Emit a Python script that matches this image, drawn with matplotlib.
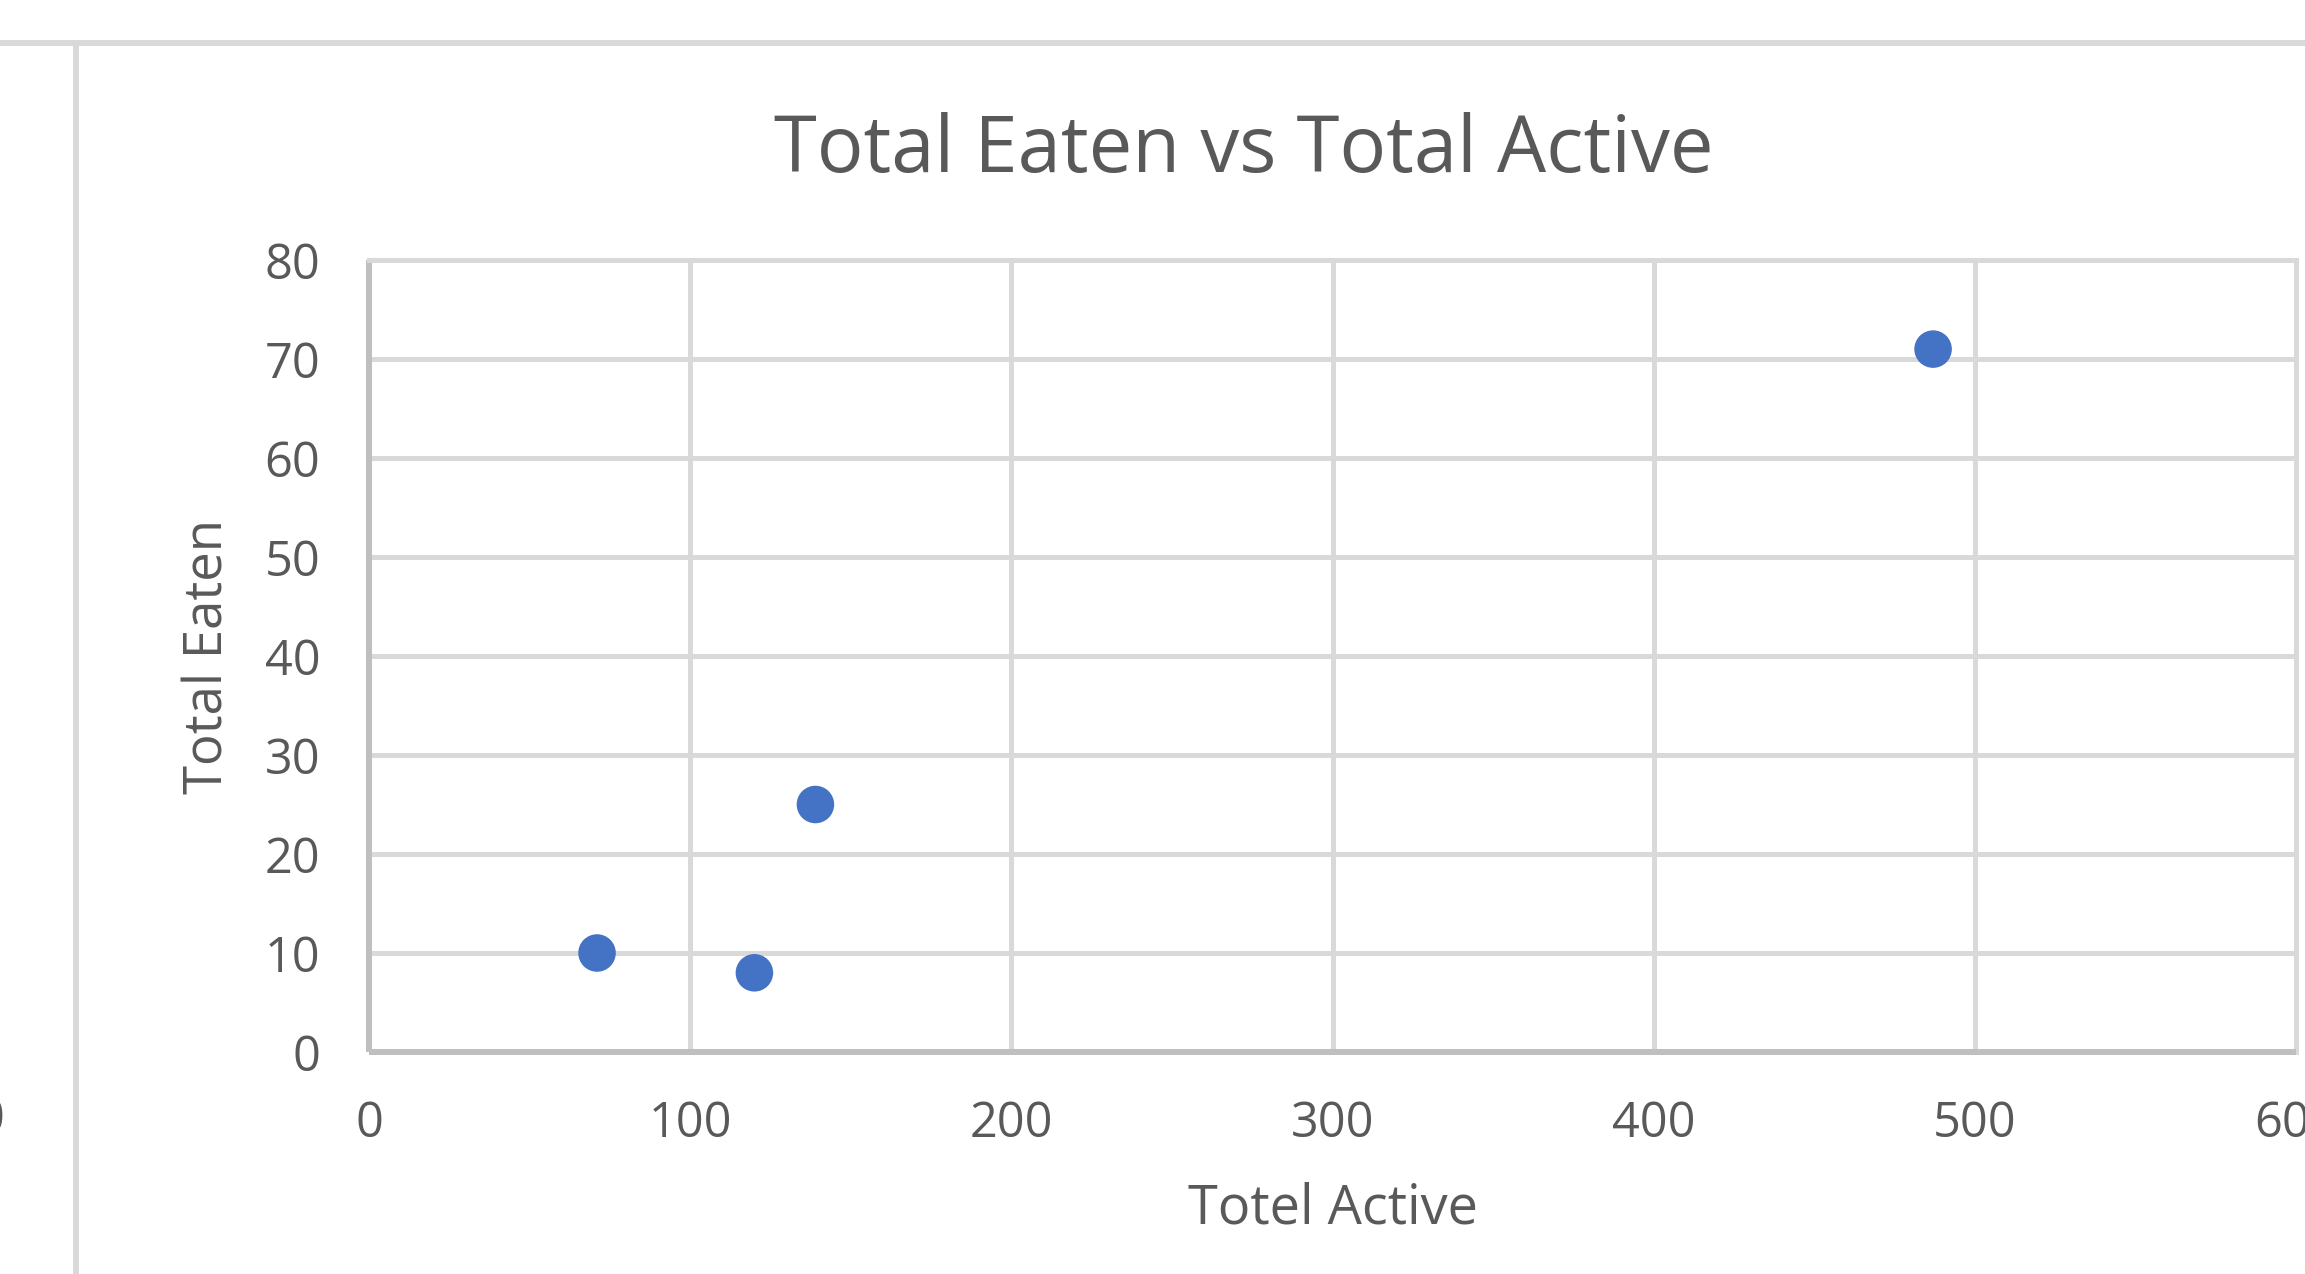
import matplotlib
matplotlib.use("Agg")
import matplotlib.pyplot as plt
from matplotlib.lines import Line2D

# values read per sample
total_active = [71, 120, 139, 487]
total_eaten = [10, 8, 25, 71]
x_ticks = [0, 100, 200, 300, 400, 500, 600]
y_ticks = [0, 10, 20, 30, 40, 50, 60, 70, 80]

plt.rcParams['font.family'] = ['Open Sans', 'DejaVu Sans']
text_color = '#595959'
grid_color = '#d9d9d9'
axis_color = '#bfbfbf'

W, H = 2305, 1274
fig = plt.figure(figsize=(W / 100, H / 100), dpi=100)
fig.patch.set_facecolor('white')

# plot area in pixels
left, right, top, bottom = 369, 2296, 260, 1052
ax = fig.add_axes([left / W, 1 - bottom / H, (right - left) / W, (bottom - top) / H])

ax.scatter(total_active, total_eaten, s=730, color='#4472C4', edgecolors='none', zorder=3, clip_on=False)

ax.set_xlim(0, 600)
ax.set_ylim(0, 80)
ax.set_xticks(x_ticks)
ax.set_yticks(y_ticks)
ax.grid(True, color=grid_color, linewidth=3.6)
ax.set_axisbelow(True)
ax.tick_params(length=0, labelsize=35, labelcolor=text_color)
ax.tick_params(axis='x', pad=34)
ax.tick_params(axis='y', pad=35)

for side in ['top', 'right']:
    ax.spines[side].set_color(grid_color)
    ax.spines[side].set_linewidth(3.6)
for side in ['left', 'bottom']:
    ax.spines[side].set_color(axis_color)
    ax.spines[side].set_linewidth(4.3)
    ax.spines[side].set_capstyle('butt')

ax.set_xlabel("Totel Active", fontsize=39, color=text_color, va='baseline')
ax.xaxis.set_label_coords(0.5005, -0.216)
ax.set_ylabel("Total Eaten", fontsize=38, color=text_color, va='baseline')
ax.yaxis.set_label_coords(-0.0762, 0.5)

fig.text(1244 / W, 1 - 172 / H, "Total Eaten vs Total Active", fontsize=56,
         color=text_color, ha='center', va='baseline')

# chart frame borders and the neighbouring chart's edge
fig.add_artist(Line2D([0, 1], [1 - 43 / H, 1 - 43 / H], transform=fig.transFigure,
                      color=grid_color, linewidth=4.3))
fig.add_artist(Line2D([76 / W, 76 / W], [0, 1 - 43 / H], transform=fig.transFigure,
                      color=grid_color, linewidth=4.3))
fig.text(4 / W, 1 - 1120 / H, "0", fontsize=35, color=text_color, ha='right', va='center')

fig.savefig("out.png", dpi=100, facecolor='white')
